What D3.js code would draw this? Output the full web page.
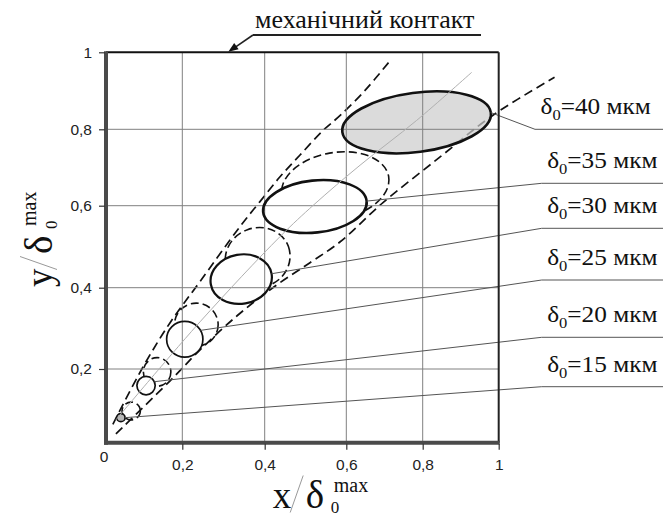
<!DOCTYPE html>
<html><head><meta charset="utf-8">
<script src="https://cdn.jsdelivr.net/npm/d3@7"></script>
<style>body{margin:0;background:#fff}svg{display:block}</style>
</head><body><svg id="c" width="663" height="517"></svg>
<script>
// ---------- data ----------
const tickVals = [0, 0.2, 0.4, 0.6, 0.8, 1];
const tickLabels = ["0", "0,2", "0,4", "0,6", "0,8", "1"];
// contact spots (solid ellipses), data units
const deltas   = [40, 35, 30, 25, 20, 15];
const spotCx   = [0.784, 0.523, 0.343, 0.206, 0.105, 0.039];
const spotCy   = [0.818, 0.598, 0.421, 0.273, 0.155, 0.068];
const spotRx   = [0.197, 0.131, 0.075, 0.044, 0.024, 0.011];
const spotRy   = [0.077, 0.068, 0.060, 0.044, 0.025, 0.011];
const spotAngle = [7.5, 6, 10, 0, 0, 0];
// intermediate spots (dashed ellipses)
const dashCx = [0.573, 0.383, 0.234, 0.134, 0.066];
const dashCy = [0.652, 0.473, 0.309, 0.192, 0.086];
const dashRx = [0.140, 0.080, 0.053, 0.036, 0.024];
const dashRy = [0.087, 0.073, 0.053, 0.036, 0.024];
const dashAngle = [10, 20, 0, 0, 0];
// envelopes and centre line
const upperEnvX = [0.018, 0.097, 0.168, 0.243, 0.340, 0.388, 0.437, 0.486, 0.543, 0.585, 0.649, 0.712];
const upperEnvY = [0.050, 0.205, 0.314, 0.415, 0.549, 0.610, 0.675, 0.732, 0.797, 0.836, 0.901, 0.975];
const lowerEnvX = [0.026, 0.168, 0.243, 0.333, 0.420, 0.511, 0.585, 0.696, 0.845, 0.984, 1.147];
const lowerEnvY = [0.024, 0.168, 0.247, 0.331, 0.400, 0.461, 0.512, 0.608, 0.727, 0.836, 0.935];
const midLineX = [0.026, 0.243, 0.437, 0.521, 0.636, 0.784, 0.929];
const midLineY = [0.062, 0.316, 0.524, 0.603, 0.706, 0.823, 0.948];

// ---------- layout ----------
const xRange = [106, 182.3, 264.7, 346.3, 422.7, 498.7];
const yRange = [442.7, 369, 287.7, 205.7, 129.3, 52.3];
const legendLineY = [129.3, 183.3, 228.3, 280, 337.3, 386.7];
const legendKinkX = [535, 541.7, 541.7, 541.7, 541.7, 541.7];
const leaderAt = [0, 0, 0, 30, 25, 0];

const svg = d3.select("#c");
const x = d3.scaleLinear().domain(tickVals).range(xRange);
const y = d3.scaleLinear().domain(tickVals).range(yRange);
const serif = "'Liberation Serif','Times New Roman',serif";
const sans = "'Liberation Sans',Arial,sans-serif";

function ellipseAttrs(sel, cxA, cyA, rxA, ryA, angA) {
  sel.attr("cx", i => x(cxA[i])).attr("cy", i => y(cyA[i]))
     .attr("rx", i => x(cxA[i] + rxA[i]) - x(cxA[i]))
     .attr("ry", i => y(cyA[i]) - y(cyA[i] + ryA[i]))
     .attr("transform", i => `rotate(${-angA[i]},${x(cxA[i])},${y(cyA[i])})`);
}
const spotIdx = d3.range(deltas.length);
const dashIdx = d3.range(dashCx.length);

// envelopes
const env = d3.line().x(d => x(d[0])).y(d => y(d[1])).curve(d3.curveCatmullRom);
svg.append("path").datum(d3.zip(upperEnvX, upperEnvY)).attr("d", env)
  .attr("fill", "none").attr("stroke", "#111").attr("stroke-width", 1.7).attr("stroke-dasharray", "9,5");
svg.append("path").datum(d3.zip(lowerEnvX, lowerEnvY)).attr("d", env)
  .attr("fill", "none").attr("stroke", "#111").attr("stroke-width", 1.7).attr("stroke-dasharray", "9,5");

// dashed ellipses
svg.append("g").selectAll("ellipse").data(dashIdx).join("ellipse")
  .call(ellipseAttrs, dashCx, dashCy, dashRx, dashRy, dashAngle)
  .attr("fill", "none").attr("stroke", "#111").attr("stroke-width", 1.6).attr("stroke-dasharray", "8,4");

// spot fills
svg.append("g").selectAll("ellipse").data(spotIdx).join("ellipse")
  .call(ellipseAttrs, spotCx, spotCy, spotRx, spotRy, spotAngle)
  .attr("fill", i => i === 0 ? "#cdcdcd" : (i === 5 ? "#b8b8b8" : "#fff"))
  .attr("fill-opacity", i => i === 0 ? 0.72 : 1)
  .attr("stroke", "none");

// grid
const inner = [0.2, 0.4, 0.6, 0.8];
svg.append("g").selectAll("line").data(inner).join("line")
  .attr("x1", d => x(d)).attr("x2", d => x(d)).attr("y1", y(1)).attr("y2", y(0))
  .attr("stroke", "#808080").attr("stroke-width", 1);
svg.append("g").selectAll("line").data(inner).join("line")
  .attr("y1", d => y(d)).attr("y2", d => y(d)).attr("x1", x(0)).attr("x2", x(1))
  .attr("stroke", "#808080").attr("stroke-width", 1);

// spot outlines
svg.append("g").selectAll("ellipse").data(spotIdx).join("ellipse")
  .call(ellipseAttrs, spotCx, spotCy, spotRx, spotRy, spotAngle)
  .attr("fill", "none").attr("stroke", "#111")
  .attr("stroke-width", i => i < 2 ? 2.6 : (i === 2 ? 2.2 : 1.7));

// centre line
svg.append("path").datum(d3.zip(midLineX, midLineY))
  .attr("d", d3.line().x(d => x(d[0])).y(d => y(d[1])).curve(d3.curveCatmullRom))
  .attr("fill", "none").attr("stroke", "#b0b0b0").attr("stroke-width", 1);

// leader lines + legend labels
spotIdx.forEach(i => {
  const cx = x(spotCx[i]), cy = y(spotCy[i]);
  const a = x(spotCx[i] + spotRx[i]) - cx, b = cy - y(spotCy[i] + spotRy[i]);
  const t = leaderAt[i] * Math.PI / 180, phi = spotAngle[i] * Math.PI / 180;
  const ex = a * Math.cos(t), ey = b * Math.sin(t);
  const sx = cx + ex * Math.cos(phi) - ey * Math.sin(phi);
  const sy = cy - (ex * Math.sin(phi) + ey * Math.cos(phi));
  svg.append("polyline")
    .attr("points", `${sx},${sy} ${legendKinkX[i]},${legendLineY[i]} 663,${legendLineY[i]}`)
    .attr("fill", "none").attr("stroke", "#555").attr("stroke-width", 1);
  const g = svg.append("g")
    .attr("transform", `translate(${legendKinkX[i] + 5.5},${legendLineY[i] - 15}) scale(1.1,1)`);
  const tx = g.append("text").attr("font-family", serif).attr("font-size", 23).attr("fill", "#111");
  tx.append("tspan").text("δ");
  tx.append("tspan").attr("font-size", 15).attr("dy", 6).text("0");
  tx.append("tspan").attr("dy", -6).text(`=${deltas[i]} мкм`);
});

// frame
svg.append("line").attr("x1", x(0)).attr("x2", x(1)).attr("y1", y(1)).attr("y2", y(1))
  .attr("stroke", "#111").attr("stroke-width", 2);
svg.append("line").attr("x1", x(1)).attr("x2", x(1)).attr("y1", y(1)).attr("y2", y(0))
  .attr("stroke", "#222").attr("stroke-width", 2);
svg.append("line").attr("x1", x(0)).attr("x2", x(0)).attr("y1", y(1) - 1).attr("y2", y(0) + 2)
  .attr("stroke", "#4a4a4a").attr("stroke-width", 4);
svg.append("line").attr("x1", x(0) - 2).attr("x2", x(1) + 1).attr("y1", y(0)).attr("y2", y(0))
  .attr("stroke", "#4a4a4a").attr("stroke-width", 4);

// axes (ticks + labels)
const fmt = d => tickLabels[tickVals.indexOf(d)];
const xa = svg.append("g").attr("transform", `translate(0,${y(0) + 1})`)
  .call(d3.axisBottom(x).tickValues([0.2, 0.4, 0.6, 0.8, 1]).tickFormat(fmt).tickSize(6).tickPadding(9));
const ya = svg.append("g").attr("transform", `translate(${x(0) - 1},0)`)
  .call(d3.axisLeft(y).tickValues([0.2, 0.4, 0.6, 0.8, 1]).tickFormat(fmt).tickSize(6).tickPadding(7));
[xa, ya].forEach(a => {
  a.select(".domain").remove();
  a.selectAll("line").attr("stroke", "#333").attr("stroke-width", 1.2);
  a.selectAll("text").attr("font-family", sans).attr("font-size", 15.5).attr("fill", "#222");
});
svg.append("text").attr("x", x(0) - 2).attr("y", 461.5).attr("text-anchor", "middle")
  .attr("font-family", sans).attr("font-size", 15.5).attr("fill", "#222").text(tickLabels[0]);

// axis titles
function axisTitle(g, letter) {
  g.append("text").attr("x", 0).attr("y", 0).attr("font-family", serif).attr("font-size", 37).attr("fill", "#111").text(letter);
  g.append("line").attr("x1", 17.5).attr("y1", 5).attr("x2", 30.5).attr("y2", -32)
    .attr("stroke", "#999").attr("stroke-width", 1);
  g.append("text").attr("x", 33).attr("y", 0).attr("font-family", serif).attr("font-size", 39).attr("fill", "#111").text("δ");
  g.append("text").attr("x", 61).attr("y", -16).attr("font-family", serif).attr("font-size", 20).attr("fill", "#111").text("max");
  g.append("text").attr("x", 58).attr("y", 5).attr("font-family", serif).attr("font-size", 17).attr("fill", "#111").text("0");
}
axisTitle(svg.append("g").attr("transform", "translate(272.7,507.5)"), "x");
axisTitle(svg.append("g").attr("transform", "translate(52,287) rotate(-90)"), "y");

// top annotation
svg.append("text").attr("x", 255).attr("y", 27.5).attr("font-family", serif).attr("font-size", 26)
  .attr("fill", "#111").text("механічний контакт");
svg.append("line").attr("x1", 253).attr("x2", 481).attr("y1", 35).attr("y2", 35)
  .attr("stroke", "#222").attr("stroke-width", 2);
svg.append("line").attr("x1", 253).attr("y1", 35).attr("x2", 235).attr("y2", 47.3)
  .attr("stroke", "#222").attr("stroke-width", 1.6);
svg.append("polygon").attr("points", "228.3,51.8 238.6,49.2 234.2,42.9").attr("fill", "#111");
</script></body></html>
